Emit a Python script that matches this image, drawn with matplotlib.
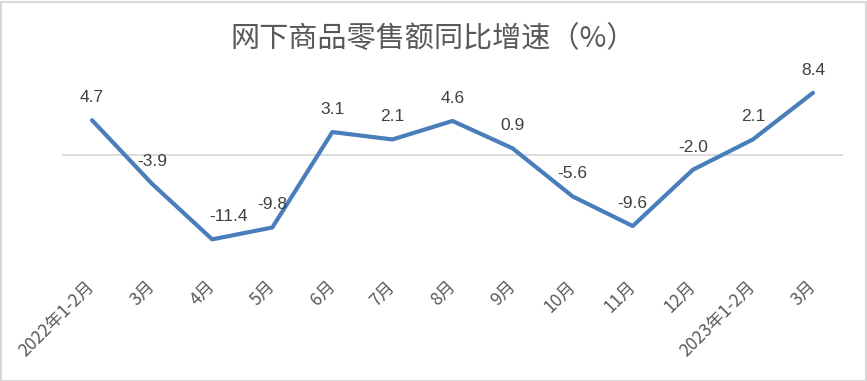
import matplotlib
matplotlib.use("Agg")
import matplotlib.pyplot as plt
from matplotlib.patches import Rectangle

plt.rcParams['font.family'] = ['Noto Sans CJK SC', 'DejaVu Sans']

categories = ["2022年1-2月", "3月", "4月", "5月", "6月", "7月", "8月", "9月",
              "10月", "11月", "12月", "2023年1-2月", "3月"]
values = [4.7, -3.9, -11.4, -9.8, 3.1, 2.1, 4.6, 0.9, -5.6, -9.6, -2.0, 2.1, 8.4]
title = "网下商品零售额同比增速（%）"

W, H = 867, 381
fig = plt.figure(figsize=(W / 100, H / 100), dpi=100)
ax = fig.add_axes([62 / W, 1 - 266 / H, (843 - 62) / W, (266 - 81) / H])

x = list(range(len(values)))
ax.plot(x, values, color='#4A7EBB', linewidth=3.0, solid_joinstyle='round',
        solid_capstyle='round', zorder=3)
ax.axhline(0, color='#D9D9D9', linewidth=1.3, zorder=1)

# label nudges (points) — in the original, the 4月 label sits slightly right
label_dx = {2: 12}
for xi, v in zip(x, values):
    ax.annotate(f"{v:.1f}", (xi, v), xytext=(label_dx.get(xi, 0), 11),
                textcoords='offset points',
                ha='center', va='bottom', fontsize=12.5, color='#404040',
                family=['Liberation Sans', 'DejaVu Sans'])

ax.set_xlim(-0.5, len(values) - 0.5)
ax.set_ylim(-15, 10)
ax.set_yticks([])
ax.set_xticks(x)
ax.set_xticklabels(categories, rotation=45, ha='right', va='center',
                   rotation_mode='anchor', fontsize=12.5, color='#595959')
ax.tick_params(axis='x', length=0, pad=13)
for s in ax.spines.values():
    s.set_visible(False)

fig.text(0.5, 1 - 40 / H, title, ha='center', va='center', fontsize=21,
         color='#595959')

fig.patches.append(Rectangle((0.5 / W, 0.5 / H), 1 - 2 / W, 1 - 2 / H,
                             transform=fig.transFigure, fill=False,
                             edgecolor='#D9D9D9', linewidth=1.5))

fig.savefig("out.png", dpi=100)
